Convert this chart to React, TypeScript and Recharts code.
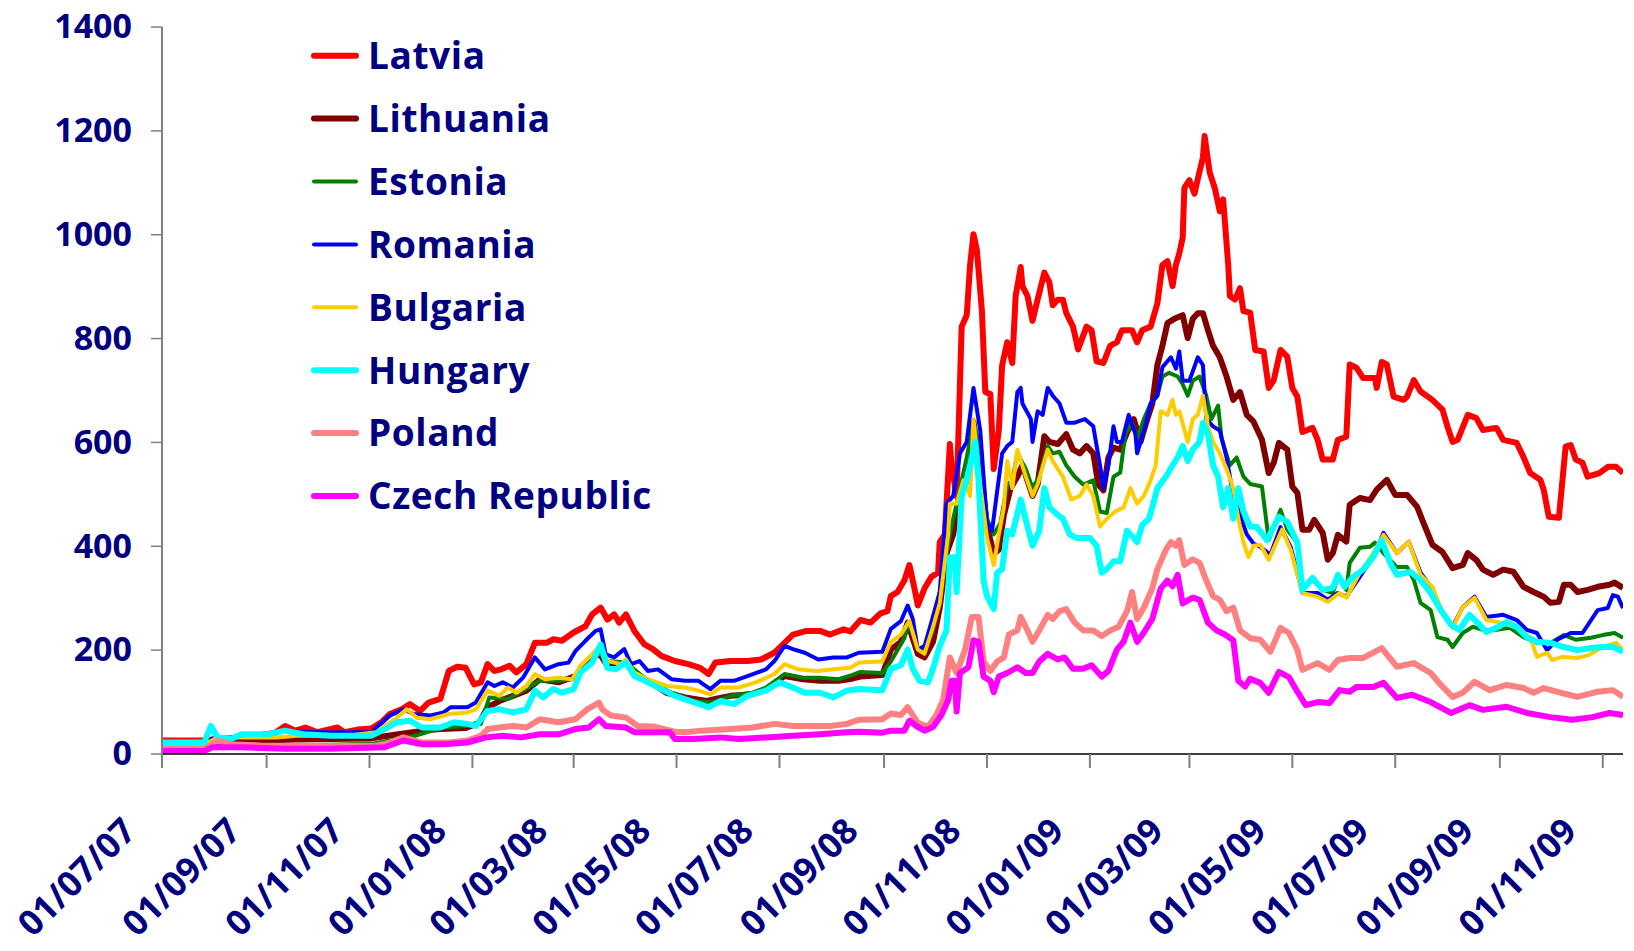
import { LineChart, Line, XAxis, YAxis, Legend } from "recharts";

const BASE = Date.UTC(2007, 6, 1);
const DAY = 86400000;
const dayOf = (s: string) => {
  const [dd, mm, yy] = s.split("/").map(Number);
  return Math.round((Date.UTC(2000 + yy, mm - 1, dd) - BASE) / DAY);
};

// axis labels
const tickLabels = [
  "01/07/07", "01/09/07", "01/11/07", "01/01/08", "01/03/08", "01/05/08", "01/07/08", "01/09/08",
  "01/11/08", "01/01/09", "01/03/09", "01/05/09", "01/07/09", "01/09/09", "01/11/09",
];
const lastDate = "13/11/09";
const yTicks = [0, 200, 400, 600, 800, 1000, 1200, 1400];

// spreads, [days since 01/07/07, bp]
const latvia: [number, number][] = [
  [0, 26], [25, 26], [30, 28], [62, 30], [73, 54], [79, 45], [85, 51], [92, 42], [104, 51], [108, 42], [116, 47], [124, 49],
  [130, 61], [135, 77], [142, 86], [147, 96], [153, 83], [158, 99], [165, 106], [170, 160], [175, 168], [180, 166], [185, 134],
  [189, 138], [193, 173], [197, 160], [201, 163], [206, 170], [210, 157], [216, 173], [221, 214], [228, 214], [232, 221],
  [237, 218], [244, 234], [251, 246], [255, 269], [260, 282], [264, 259], [268, 269], [271, 253], [275, 269], [280, 237],
  [286, 211], [291, 202], [296, 189], [304, 179], [312, 173], [319, 166], [324, 154], [328, 176], [337, 179], [347, 179],
  [355, 182], [363, 195], [369, 214], [374, 230], [382, 237], [390, 237], [396, 230], [404, 240], [408, 236], [414, 258],
  [420, 253], [426, 271], [430, 275], [432, 304], [436, 312], [440, 334], [443, 364], [446, 319], [448, 286], [452, 319],
  [456, 341], [460, 349], [461, 408], [464, 423], [467, 597], [468, 556], [471, 497], [474, 823], [477, 845], [479, 942],
  [481, 1001], [483, 971], [486, 853], [488, 697], [491, 693], [493, 549], [496, 623], [498, 749], [501, 793], [504, 753],
  [506, 882], [509, 938], [510, 901], [513, 882], [516, 834], [519, 875], [523, 927], [526, 908], [528, 864], [531, 875],
  [534, 875], [536, 849], [540, 823], [543, 779], [548, 823], [551, 816], [554, 756], [558, 753], [562, 786], [566, 793],
  [569, 816], [572, 816], [575, 816], [578, 793], [581, 816], [586, 823], [587, 834], [590, 868], [593, 942], [596, 949],
  [599, 901], [601, 942], [603, 964], [605, 994], [606, 1090], [609, 1105], [612, 1079], [614, 1108], [617, 1149],
  [618, 1190], [621, 1120], [624, 1090], [627, 1045], [629, 1068], [632, 942], [633, 882], [636, 875], [639, 897],
  [641, 853], [645, 850], [648, 778], [653, 775], [656, 705], [659, 720], [663, 778], [667, 765], [670, 705], [673, 688],
  [676, 620], [682, 628], [685, 605], [688, 567], [694, 567], [697, 605], [702, 611], [704, 750], [708, 744], [712, 724],
  [719, 724], [720, 705], [723, 755], [726, 750], [730, 688], [736, 682], [738, 688], [742, 720], [746, 698], [753, 682],
  [759, 663], [762, 630], [765, 601], [768, 605], [774, 653], [779, 647], [783, 624], [791, 628], [795, 605], [803, 599],
  [807, 572], [811, 541], [817, 528], [819, 509], [822, 457], [828, 455], [832, 592], [835, 595], [838, 567], [842, 561],
  [845, 534], [852, 541], [857, 553], [862, 553], [866, 541],
];

const lithuania: [number, number][] = [
  [0, 18], [25, 18], [30, 22], [45, 24], [62, 26], [80, 28], [100, 29], [123, 30], [140, 38], [155, 45], [165, 48], [180, 50],
  [188, 60], [193, 90], [200, 102], [208, 112], [216, 122], [224, 144], [235, 138], [245, 150], [250, 170], [259, 195],
  [264, 170], [275, 176], [280, 157], [288, 141], [299, 118], [310, 109], [323, 102], [328, 106], [337, 112], [350, 115],
  [358, 125], [369, 150], [380, 144], [390, 141], [401, 141], [409, 145], [414, 149], [427, 152], [432, 201], [438, 216],
  [442, 253], [445, 223], [448, 193], [452, 186], [457, 216], [461, 282], [465, 386], [469, 423], [473, 497], [478, 534],
  [481, 640], [485, 549], [489, 438], [493, 386], [496, 393], [499, 460], [503, 512], [507, 534], [510, 556], [516, 497],
  [519, 519], [523, 612], [526, 601], [531, 597], [536, 616], [540, 586], [544, 579], [548, 593], [552, 579], [555, 519],
  [558, 508], [561, 571], [564, 590], [568, 586], [572, 619], [576, 645], [580, 601], [584, 645], [587, 675], [590, 749],
  [593, 786], [596, 830], [600, 838], [605, 845], [608, 801], [611, 838], [614, 849], [617, 849], [620, 816], [623, 786],
  [627, 764], [631, 727], [635, 682], [639, 697], [643, 653], [647, 640], [652, 605], [656, 541], [659, 561], [662, 599],
  [667, 586], [670, 515], [673, 503], [676, 432], [680, 432], [683, 451], [688, 426], [691, 374], [694, 387], [697, 422],
  [702, 409], [704, 480], [710, 493], [716, 489], [720, 509], [726, 528], [731, 499], [738, 499], [744, 476], [747, 451],
  [753, 403], [759, 389], [765, 358], [771, 364], [774, 387], [779, 374], [783, 355], [789, 345], [795, 355], [801, 351],
  [807, 322], [813, 312], [819, 303], [823, 291], [828, 293], [831, 326], [835, 326], [839, 312], [845, 316], [851, 322],
  [858, 326], [861, 330], [866, 320],
];

const estonia: [number, number][] = [
  [0, 14], [25, 14], [62, 16], [100, 18], [125, 20], [135, 26], [150, 35], [165, 50], [180, 54], [189, 58], [194, 109],
  [205, 106], [210, 115], [224, 141], [235, 141], [243, 144], [251, 166], [259, 195], [264, 179], [275, 176], [288, 141],
  [302, 118], [315, 102], [326, 99], [337, 112], [350, 118], [358, 128], [369, 154], [380, 147], [390, 147], [401, 144],
  [409, 152], [414, 158], [427, 156], [432, 178], [440, 223], [443, 253], [448, 201], [452, 201], [457, 238], [461, 312],
  [467, 423], [473, 512], [477, 571], [481, 640], [485, 586], [489, 453], [493, 423], [497, 445], [501, 519], [504, 527],
  [507, 579], [512, 549], [516, 512], [520, 534], [525, 593], [528, 579], [532, 582], [536, 556], [541, 534], [546, 519],
  [552, 527], [556, 467], [560, 464], [564, 534], [568, 542], [571, 616], [575, 638], [578, 608], [582, 645], [586, 675],
  [590, 690], [593, 727], [597, 734], [602, 727], [605, 712], [608, 690], [611, 719], [615, 727], [619, 690], [622, 645],
  [626, 671], [628, 608], [633, 556], [637, 571], [641, 534], [645, 520], [652, 515], [656, 412], [663, 470], [667, 432],
  [673, 407], [676, 322], [682, 335], [688, 316], [694, 310], [697, 341], [702, 316], [704, 368], [710, 397], [716, 399],
  [719, 407], [724, 387], [732, 360], [738, 360], [742, 335], [746, 291], [752, 277], [756, 225], [762, 220], [765, 206],
  [771, 233], [777, 245], [783, 239], [791, 239], [799, 243], [807, 225], [815, 214], [823, 214], [831, 229], [838, 220],
  [847, 224], [854, 229], [861, 233], [866, 224],
];

const romania: [number, number][] = [
  [0, 20], [25, 20], [30, 30], [50, 35], [73, 45], [90, 42], [110, 42], [125, 42], [127, 51], [135, 74], [143, 86], [149, 77],
  [159, 74], [167, 80], [171, 90], [181, 90], [186, 99], [193, 138], [197, 131], [202, 138], [208, 128], [214, 147],
  [221, 186], [227, 163], [235, 173], [241, 176], [245, 198], [251, 218], [257, 237], [260, 240], [263, 192], [268, 186],
  [274, 202], [278, 173], [283, 179], [288, 160], [294, 163], [302, 144], [310, 141], [318, 141], [325, 125], [331, 141],
  [339, 141], [347, 150], [358, 163], [363, 179], [369, 208], [374, 202], [381, 195], [389, 182], [398, 186], [406, 186],
  [413, 195], [427, 197], [432, 241], [438, 256], [442, 286], [445, 260], [448, 201], [452, 208], [456, 253], [461, 312],
  [465, 482], [469, 497], [473, 579], [477, 601], [481, 705], [485, 623], [489, 445], [492, 430], [495, 505], [498, 579],
  [501, 593], [504, 601], [507, 697], [509, 705], [510, 675], [515, 645], [516, 601], [519, 660], [522, 653], [525, 705],
  [528, 690], [532, 675], [536, 638], [541, 638], [547, 645], [552, 631], [556, 556], [558, 512], [561, 556], [564, 631],
  [566, 601], [569, 601], [573, 653], [577, 616], [578, 579], [582, 623], [586, 675], [590, 690], [593, 745], [598, 764],
  [601, 742], [603, 775], [605, 719], [609, 719], [614, 764], [617, 749], [619, 645], [623, 631], [627, 623], [631, 571],
  [635, 497], [639, 460], [643, 423], [647, 405], [651, 399], [657, 384], [663, 437], [669, 399], [676, 310], [685, 310],
  [691, 297], [697, 310], [702, 303], [710, 341], [718, 380], [724, 426], [732, 387], [739, 409], [746, 349], [752, 322],
  [759, 272], [765, 245], [771, 283], [778, 303], [785, 264], [795, 268], [803, 258], [809, 239], [815, 233], [821, 200],
  [827, 220], [835, 233], [842, 233], [851, 277], [857, 281], [860, 306], [863, 303], [866, 281],
];

const bulgaria: [number, number][] = [
  [0, 18], [25, 18], [33, 32], [68, 32], [80, 35], [110, 35], [127, 42], [138, 67], [145, 86], [151, 70], [159, 67],
  [170, 77], [181, 80], [186, 86], [193, 122], [200, 112], [205, 128], [210, 118], [216, 131], [221, 154], [227, 144],
  [235, 147], [243, 144], [248, 170], [255, 192], [260, 211], [264, 179], [272, 173], [275, 182], [280, 157], [288, 144],
  [299, 131], [310, 128], [318, 122], [325, 115], [331, 128], [342, 128], [352, 138], [363, 154], [369, 173], [377, 163],
  [388, 160], [398, 163], [408, 166], [413, 176], [427, 178], [432, 216], [438, 230], [443, 256], [448, 201], [452, 193],
  [457, 245], [461, 290], [466, 423], [467, 482], [471, 482], [475, 527], [479, 497], [481, 645], [485, 519], [489, 416],
  [493, 364], [496, 423], [499, 475], [501, 564], [504, 512], [507, 586], [512, 534], [516, 497], [519, 519], [525, 586],
  [528, 564], [534, 534], [539, 490], [544, 497], [548, 519], [552, 497], [556, 438], [560, 453], [565, 467], [570, 475],
  [574, 512], [578, 482], [582, 497], [586, 527], [589, 556], [592, 660], [596, 653], [599, 682], [601, 653], [603, 660],
  [608, 601], [611, 645], [614, 653], [617, 690], [620, 631], [623, 601], [627, 579], [631, 549], [635, 512], [638, 453],
  [641, 408], [644, 379], [647, 401], [651, 403], [656, 374], [664, 432], [669, 393], [676, 310], [685, 303], [691, 293],
  [698, 310], [702, 301], [710, 349], [718, 387], [724, 422], [732, 387], [739, 409], [746, 345], [753, 322], [759, 272],
  [765, 243], [771, 283], [778, 301], [785, 258], [795, 252], [803, 243], [811, 225], [815, 187], [821, 195], [824, 181],
  [830, 187], [839, 185], [846, 191], [854, 206], [862, 214], [866, 200],
];

const hungary: [number, number][] = [
  [0, 22], [25, 22], [29, 54], [33, 32], [41, 29], [47, 38], [55, 38], [63, 38], [73, 45], [84, 38], [100, 35], [114, 35],
  [124, 35], [132, 48], [139, 61], [147, 64], [154, 51], [165, 51], [173, 61], [181, 58], [186, 54], [193, 83], [200, 86],
  [208, 80], [216, 86], [221, 122], [226, 109], [232, 125], [237, 118], [244, 125], [248, 157], [255, 176], [260, 211],
  [264, 166], [269, 163], [275, 176], [280, 150], [288, 138], [296, 125], [304, 112], [315, 100], [324, 90], [331, 102],
  [339, 96], [347, 112], [358, 122], [366, 138], [374, 128], [381, 118], [390, 118], [398, 109], [406, 122], [413, 125],
  [427, 123], [432, 164], [438, 171], [442, 201], [445, 164], [449, 141], [454, 138], [457, 164], [461, 208], [465, 238],
  [467, 379], [470, 379], [471, 312], [474, 497], [477, 527], [479, 556], [482, 601], [484, 527], [487, 334], [489, 304],
  [493, 279], [495, 349], [498, 356], [501, 430], [504, 423], [509, 490], [513, 438], [516, 401], [520, 430], [523, 512],
  [526, 475], [531, 460], [534, 453], [538, 423], [542, 416], [550, 416], [554, 401], [557, 349], [560, 356], [564, 371],
  [568, 371], [572, 430], [576, 416], [578, 408], [581, 441], [585, 453], [587, 475], [590, 512], [595, 534], [599, 556],
  [602, 571], [605, 593], [608, 564], [611, 586], [615, 601], [617, 638], [620, 616], [623, 556], [626, 534], [629, 475],
  [632, 512], [635, 453], [638, 512], [641, 467], [645, 438], [649, 437], [655, 412], [662, 457], [667, 447], [673, 407],
  [676, 316], [682, 339], [688, 316], [694, 320], [697, 345], [701, 322], [706, 341], [712, 355], [718, 380], [723, 412],
  [728, 368], [732, 345], [740, 351], [746, 335], [752, 310], [758, 277], [764, 249], [769, 239], [775, 268], [781, 249],
  [785, 235], [791, 243], [797, 254], [803, 245], [809, 225], [815, 216], [823, 214], [831, 206], [839, 200], [847, 204],
  [854, 206], [860, 206], [866, 197],
];

const poland: [number, number][] = [
  [0, 10], [25, 10], [33, 26], [41, 19], [60, 16], [87, 16], [100, 16], [127, 16], [135, 22], [143, 32], [154, 22],
  [170, 22], [181, 26], [189, 35], [193, 48], [200, 51], [208, 54], [216, 51], [224, 67], [235, 61], [245, 67], [252, 86],
  [259, 99], [261, 86], [266, 74], [275, 70], [282, 54], [291, 53], [304, 43], [310, 42], [320, 45], [337, 48], [350, 51],
  [363, 58], [374, 54], [385, 54], [396, 54], [406, 58], [413, 66], [427, 67], [432, 78], [438, 75], [442, 90], [448, 60],
  [454, 52], [459, 75], [463, 104], [467, 186], [471, 156], [476, 201], [480, 264], [484, 264], [487, 178], [491, 160],
  [495, 178], [499, 186], [502, 230], [507, 238], [509, 264], [513, 238], [516, 216], [520, 238], [525, 268], [528, 260],
  [532, 275], [536, 279], [541, 253], [546, 238], [552, 238], [557, 227], [562, 238], [567, 245], [572, 275], [575, 312],
  [578, 260], [582, 282], [587, 319], [590, 356], [595, 393], [598, 408], [601, 401], [603, 412], [606, 364], [611, 375],
  [615, 368], [619, 334], [623, 304], [627, 297], [631, 275], [635, 282], [639, 238], [645, 223], [651, 220], [657, 197],
  [663, 243], [668, 233], [673, 200], [676, 162], [685, 175], [692, 162], [697, 181], [704, 185], [712, 185], [723, 204],
  [732, 168], [742, 175], [752, 156], [758, 133], [765, 110], [771, 118], [778, 139], [787, 123], [797, 133], [807, 127],
  [813, 118], [819, 127], [829, 118], [839, 110], [851, 120], [860, 123], [866, 110],
];

const czech: [number, number][] = [
  [0, 6], [25, 6], [30, 13], [47, 13], [73, 10], [100, 10], [132, 13], [143, 26], [154, 19], [167, 19], [181, 22], [192, 32],
  [202, 35], [213, 32], [224, 38], [235, 38], [245, 48], [253, 51], [259, 67], [263, 54], [275, 51], [280, 42], [301, 42],
  [304, 29], [315, 29], [331, 32], [342, 29], [358, 32], [374, 35], [390, 38], [406, 42], [413, 43], [427, 41], [432, 45],
  [440, 45], [443, 64], [448, 52], [452, 45], [457, 52], [462, 75], [466, 104], [468, 141], [470, 141], [471, 82],
  [473, 156], [478, 167], [481, 219], [484, 216], [487, 149], [491, 141], [493, 119], [496, 149], [501, 156], [507, 167],
  [512, 156], [516, 156], [520, 178], [525, 193], [531, 182], [535, 186], [540, 164], [546, 164], [551, 171], [557, 149],
  [561, 160], [566, 201], [570, 216], [574, 253], [578, 216], [582, 234], [587, 260], [592, 319], [596, 334], [599, 323],
  [602, 345], [605, 290], [611, 301], [615, 297], [620, 253], [625, 238], [630, 230], [635, 219], [638, 141], [642, 130],
  [645, 145], [651, 137], [656, 118], [662, 158], [668, 148], [673, 120], [678, 94], [685, 100], [692, 98], [698, 123],
  [704, 120], [708, 129], [718, 129], [724, 137], [732, 108], [741, 114], [752, 100], [764, 79], [775, 94], [783, 85],
  [797, 91], [809, 79], [823, 71], [836, 66], [848, 71], [858, 79], [866, 75],
];

const seriesNames = ["Latvia", "Lithuania", "Estonia", "Romania", "Bulgaria", "Hungary", "Poland", "Czech Republic"];
const seriesData = [latvia, lithuania, estonia, romania, bulgaria, hungary, poland, czech];
const seriesColors = ["#FF0000", "#800000", "#008000", "#0000FF", "#FFCC00", "#00FFFF", "#FF8080", "#FF00FF"];
const seriesWidths = [6, 6, 4, 4, 4, 6, 6, 6];

const NAVY = "#000080";
const FONT = "'Open Sans', 'DejaVu Sans', sans-serif";

const tickDays = tickLabels.map(dayOf);

const XTick = (props: any) => {
  const { x, y, payload } = props;
  const i = tickDays.indexOf(payload.value);
  const ax = x - 24;
  const ay = y + 63;
  return (
    <text
      x={ax}
      y={ay}
      textAnchor="end"
      transform={`rotate(-45 ${ax} ${ay})`}
      fill={NAVY}
      fontFamily={FONT}
      fontWeight={700}
      fontSize={35}
    >
      {tickLabels[i]}
    </text>
  );
};

const YTick = (props: any) => {
  const { x, y, payload } = props;
  return (
    <text x={x - 17} y={y} dy="0.33em" textAnchor="end" fill={NAVY} fontFamily={FONT} fontWeight={700} fontSize={34}>
      {payload.value}
    </text>
  );
};

const renderLegend = () => (
  <svg width={720} height={540} style={{ overflow: "visible" }}>
    {seriesNames.map((name, i) => {
      const cy = 55.7 + i * 62.9;
      return (
        <g key={name}>
          <line x1={314} x2={356} y1={cy} y2={cy} stroke={seriesColors[i]} strokeWidth={seriesWidths[i]} strokeLinecap="round" />
          <text
            x={368}
            y={cy}
            dy="0.36em"
            fill={NAVY}
            fontFamily={FONT}
            fontWeight={700}
            fontSize={37}
            letterSpacing={0.6}
          >
            {name}
          </text>
        </g>
      );
    })}
  </svg>
);

export default function App() {
  return (
    <div style={{ position: "absolute", left: 0, top: 0, width: 1634, height: 951, background: "#fff" }}>
      <LineChart width={1634} height={951} margin={{ top: 27, right: 11, bottom: 0, left: 0 }}>
        <XAxis
          dataKey="d"
          type="number"
          domain={[0, dayOf(lastDate)]}
          ticks={tickDays}
          interval={0}
          height={197}
          axisLine={{ stroke: "#000", strokeWidth: 1.5 }}
          tickLine={{ stroke: "#808080", strokeWidth: 2 }}
          tickSize={14}
          tick={<XTick />}
          allowDataOverflow
        />
        <YAxis
          type="number"
          domain={[0, 1400]}
          ticks={yTicks}
          interval={0}
          width={162}
          axisLine={{ stroke: "#808080", strokeWidth: 2 }}
          tickLine={{ stroke: "#808080", strokeWidth: 1.5 }}
          tickSize={11}
          tick={<YTick />}
        />
        <Legend
          verticalAlign="middle"
          align="center"
          layout="horizontal"
          content={renderLegend}
          wrapperStyle={{ left: 0, top: 0, width: 720, height: 540 }}
        />
        {seriesNames.map((name, i) => (
          <Line
            key={name}
            name={name}
            data={seriesData[i].map(([d, v]) => ({ d, v }))}
            dataKey="v"
            type="linear"
            stroke={seriesColors[i]}
            strokeWidth={seriesWidths[i]}
            strokeLinejoin="round"
            dot={false}
            activeDot={false}
            isAnimationActive={false}
          />
        ))}
      </LineChart>
    </div>
  );
}
